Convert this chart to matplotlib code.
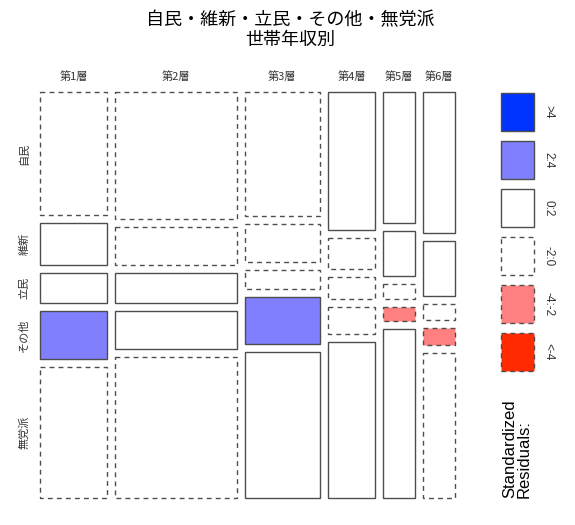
import numpy as np
import matplotlib
matplotlib.use('Agg')
import matplotlib.pyplot as plt
from matplotlib.patches import Rectangle

plt.rcParams['font.family'] = ['Noto Sans CJK JP', 'DejaVu Sans']

# data: column shares and within-column row shares
cols = ['第1層', '第2層', '第3層', '第4層', '第5層', '第6層']
rows = ['自民', '維新', '立民', 'その他', '無党派']
col_share = [0.179, 0.324, 0.200, 0.126, 0.086, 0.085]
row_share = [
    [0.329, 0.111, 0.082, 0.129, 0.349],
    [0.340, 0.100, 0.082, 0.100, 0.378],
    [0.330, 0.102, 0.052, 0.126, 0.390],
    [0.370, 0.082, 0.060, 0.071, 0.417],
    [0.349, 0.121, 0.042, 0.035, 0.453],
    [0.377, 0.147, 0.042, 0.046, 0.388],
]
# residual class: 0 '<-4', 1 '-4:-2', 2 '-2:0', 3 '0:2', 4 '2:4', 5 '>4'
resid_cls = [
    [2, 3, 3, 4, 2],
    [2, 2, 3, 3, 2],
    [2, 2, 2, 4, 3],
    [3, 2, 2, 2, 3],
    [3, 3, 2, 1, 3],
    [3, 3, 2, 1, 2],
]
legend_labels = ['<-4', '-4:-2', '-2:0', '0:2', '2:4', '>4']
shade = ['#FF2A00', '#FF8080', 'white', 'white', '#8080FF', '#0033FF']

edge = '#4d4d4d'

fig = plt.figure(figsize=(5.75, 5.25), dpi=100)
ax = fig.add_axes([0, 0, 1, 1])
ax.set_xlim(0, 575)
ax.set_ylim(525, 0)
ax.axis('off')

# plot region in pixels
x0, x1 = 40, 455.3
y0, y1 = 92.3, 497.7
gap = 8

def box(x, y, w, h, cls):
    ls = '-' if cls >= 3 else (0, (3.5, 3))
    ax.add_patch(Rectangle((x, y), w, h, facecolor=shade[cls], edgecolor=edge,
                           linewidth=1.0, linestyle=ls))

wtot = (x1 - x0) - gap * (len(cols) - 1)
htot = (y1 - y0) - gap * (len(rows) - 1)
cx = x0
for i, c in enumerate(cols):
    w = col_share[i] * wtot
    cy = y0
    for j, r in enumerate(rows):
        h = row_share[i][j] * htot
        box(cx, cy, w, h, resid_cls[i][j])
        if i == 0:
            ax.text(24, cy + h / 2, r, rotation=90, ha='center', va='center',
                    fontsize=8, color='#333333')
        cy += h + gap
    ax.text(cx + w / 2, 77, c, ha='center', va='center', fontsize=8, color='#333333')
    cx += w + gap

ax.text(290, 20, '自民・維新・立民・その他・無党派', ha='center', va='center', fontsize=13)
ax.text(290, 40, '世帯年収別', ha='center', va='center', fontsize=13)

# legend
ly = 92.7
for k in range(5, -1, -1):
    box(501, ly, 33, 38.5, k)
    ax.text(548, ly + 19, legend_labels[k], rotation=-90, ha='center', va='center',
            fontsize=8.5, color='#333333', family=['Liberation Sans', 'DejaVu Sans'])
    ly += 48

ax.text(517, 449, 'Standardized\nResiduals:', rotation=90, ha='center', va='center',
        fontsize=12, linespacing=1.0, multialignment='left',
        family=['Liberation Sans', 'DejaVu Sans'])

fig.savefig('out.png', dpi=100)
